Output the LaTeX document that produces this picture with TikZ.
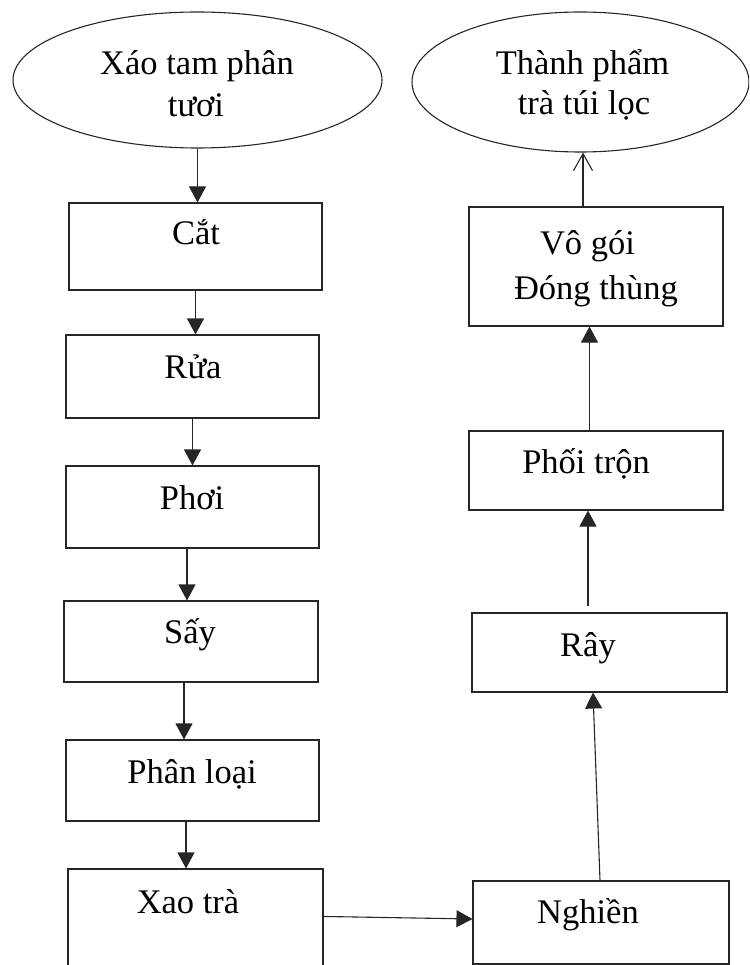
\documentclass[tikz,border=0pt]{standalone}
\usepackage{fontspec}
\setmainfont{Liberation Serif}
\usetikzlibrary{arrows.meta,calc,shapes.geometric}

\tikzset{
  ln/.style={draw=black!85, line width=1.1pt},
  stepbox/.style={ln, rectangle, inner sep=0pt, minimum width=#1},
  oval/.style={ln, ellipse, inner sep=0pt},
  lbl/.style={anchor=base, inner sep=0pt, font=\fontsize{34.5}{42}\selectfont},
  arr/.style={ln, -{Triangle[length=16pt,width=17pt]}},
  openarr/.style={ln, -{Straight Barb[length=17pt,width=19pt,line width=1.1pt]}},
}

\begin{document}
\begin{tikzpicture}[x=1pt, y=-1pt]
\useasboundingbox (0,0) rectangle (749,965);
\clip (0,0) rectangle (749,965);

% start and end ovals
\node[oval, minimum width=369pt, minimum height=136pt] (xao) at (197.5,80) {};
\node[oval, minimum width=337pt, minimum height=140pt] (thanh) at (580.5,82) {};

% left column of steps
\node[stepbox=253pt, minimum height=87pt] (cat) at (195.5,246.5) {};
\node[stepbox=253pt, minimum height=83pt] (rua) at (192.5,376.5) {};
\node[stepbox=253pt, minimum height=82pt] (phoi) at (192.5,507) {};
\node[stepbox=254pt, minimum height=81pt] (say) at (191,641.5) {};
\node[stepbox=253pt, minimum height=81pt] (phanloai) at (192.5,780.5) {};
\node[stepbox=255pt, minimum height=121pt] (xaotra) at (195.5,929.5) {};

% right column of steps
\node[stepbox=256pt, minimum height=83pt] (nghien) at (601,922.5) {};
\node[stepbox=255pt, minimum height=79pt] (ray) at (599.5,652.5) {};
\node[stepbox=254pt, minimum height=79pt] (phoitron) at (596,470.5) {};
\node[stepbox=254pt, minimum height=119pt] (vogoi) at (596,266.5) {};

% labels
\node[lbl] (xaoA) at (197,75) {Xáo tam phân};
\node[lbl] (xaoB) at (196,117) {tươi};
\node[lbl] (thanhA) at (582.5,75) {Thành phẩm};
\node[lbl] (thanhB) at (584,115) {trà túi lọc};
\node[lbl] (catT) at (196,245) {Cắt};
\node[lbl] (ruaT) at (193,378) {Rửa};
\node[lbl] (phoiT) at (192,509) {Phơi};
\node[lbl] (sayT) at (190,643) {Sấy};
\node[lbl] (phanloaiT) at (192,783) {Phân loại};
\node[lbl] (xaotraT) at (188,913) {Xao trà};
\node[lbl] (nghienT) at (588,923) {Nghiền};
\node[lbl] (rayT) at (588,656) {Rây};
\node[lbl] (phoitronT) at (586,473) {Phối trộn};
\node[lbl] (vogoiA) at (587.5,255) {Vô gói};
\node[lbl] (vogoiB) at (596,299) {Đóng thùng};

% anchor points for the connectors
\coordinate (c4) at ($(phoi.south)+(-5.5,0)$);
\coordinate (c5) at ($(say.south)+(-7,0)$);
\coordinate (c6) at ($(phanloai.south)+(-6.5,0)$);
\coordinate (c7) at ($(xaotra.north east)+(0,48)$);
\coordinate (c8) at ($(ray.south)+(-6.5,0)$);
\coordinate (c9) at ($(ray.north)+(-11.5,-6)$);
\coordinate (c10) at ($(phoitron.north)+(-6.5,0)$);
\coordinate (c11) at ($(vogoi.north)+(-13,0)$);

% connectors
\draw[arr] (xao.south) -- (xao.south |- cat.north);
\draw[arr] (cat.south) -- (cat.south |- rua.north);
\draw[arr] (rua.south) -- (rua.south |- phoi.north);
\draw[arr] (c4) -- (c4 |- say.north);
\draw[arr] (c5) -- (c5 |- phanloai.north);
\draw[arr] (c6) -- (c6 |- xaotra.north);
\draw[arr] (c7) -- ($(nghien.west)+(0,-3.5)$);
\draw[arr] ($(nghien.north)+(-1,0)$) -- (c8);
\draw[arr] (c9) -- (c9 |- phoitron.south);
\draw[arr] (c10) -- (c10 |- vogoi.south);
\draw[openarr] (c11) -- (c11 |- thanh.south);
\end{tikzpicture}
\end{document}
